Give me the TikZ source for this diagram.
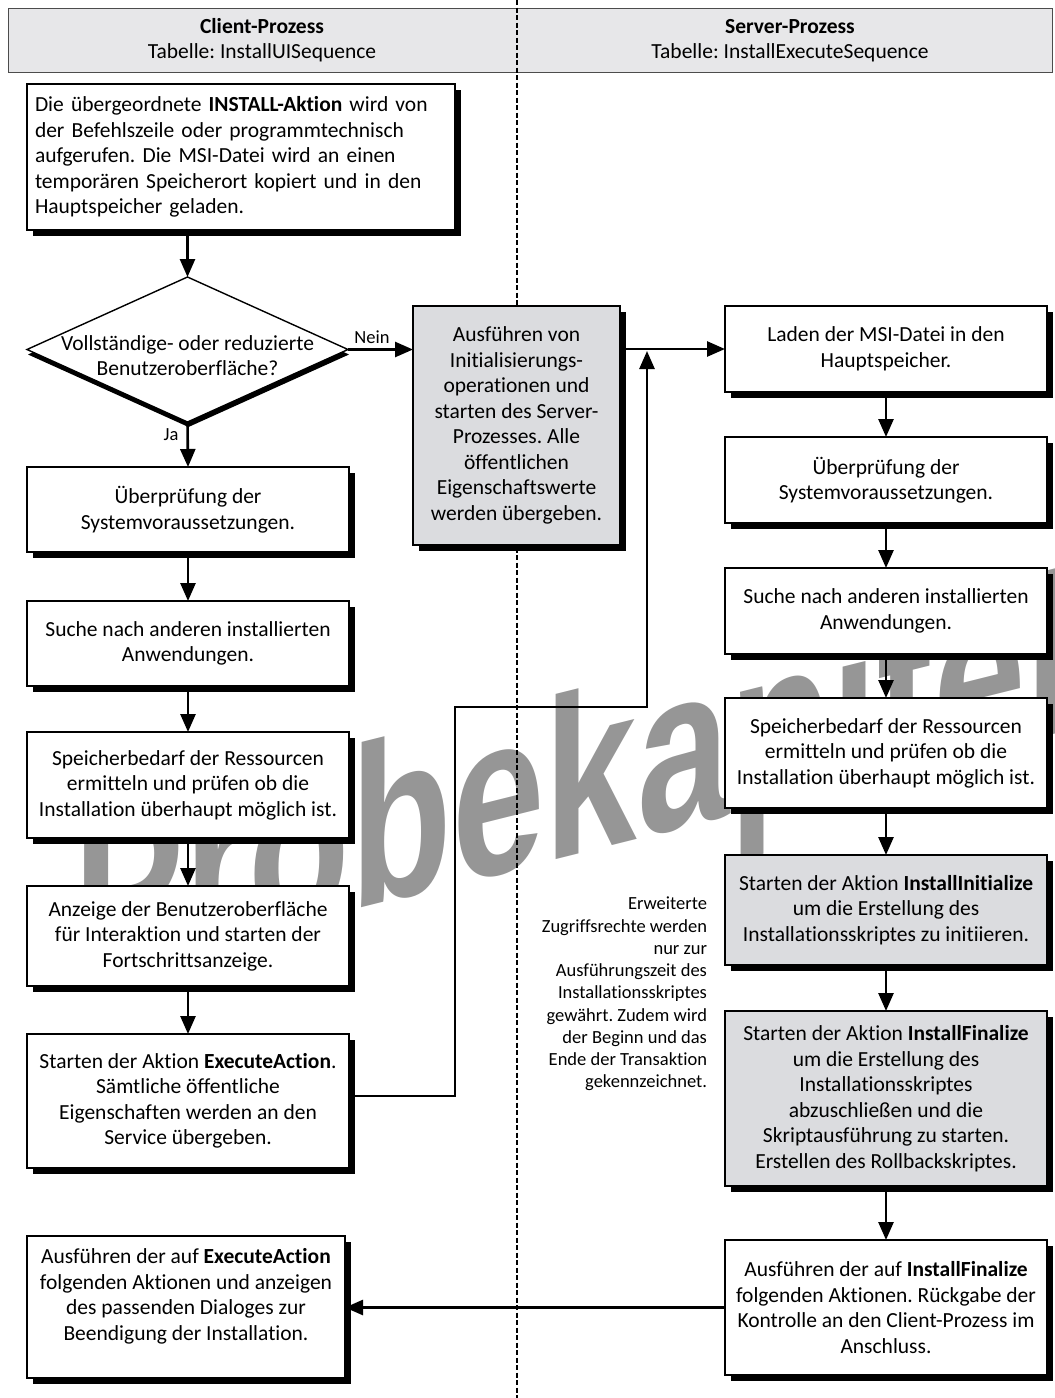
\documentclass[tikz,border=0pt]{standalone}
\usepackage{fontspec}
\setmainfont{Carlito}[Ligatures=NoCommon]
\newfontfamily\wmfont{Liberation Sans}
\usetikzlibrary{arrows.meta,shadows,shapes.geometric}
\frenchspacing

\definecolor{boxgray}{RGB}{219,220,223}
\definecolor{headgray}{RGB}{231,231,233}
\definecolor{wmgray}{RGB}{150,150,150}

\tikzset{
  every node/.style={outer sep=0pt},
  bodytext/.style={font=\fontsize{21.5}{25.5}\selectfont},
  flowbox/.style={draw=black, line width=1.4pt, fill=white, inner sep=0pt,
    align=center, bodytext,
    drop shadow={shadow xshift=5.5pt, shadow yshift=-5.5pt, fill=black, opacity=1}},
  graybox/.style={flowbox, fill=boxgray},
  decision/.style={diamond, draw=black, line width=1.4pt, fill=white, inner sep=0pt,
    drop shadow={shadow xshift=1pt, shadow yshift=-5pt, fill=black, opacity=1}},
  conn/.style={line width=2.6pt, -{Triangle[length=18pt,width=15pt]}},
  lane/.style={line width=2pt, dash pattern=on 5pt off 2.5pt},
  note/.style={font=\fontsize{18.5}{22.25}\selectfont, align=right, inner sep=0pt},
  flag/.style={font=\fontsize{18.5}{20}\selectfont, inner sep=0pt},
  headtext/.style={align=center, inner sep=0pt, font=\fontsize{21.5}{25}\selectfont},
}

\begin{document}
\begin{tikzpicture}[x=1pt,y=1pt]
\useasboundingbox (0,0) rectangle (1055,-1398);

% background watermark
\begin{scope}[shift={(73,-980)}]
  \node[anchor=base west, inner sep=0pt, text=wmgray,
        font=\wmfont\bfseries\fontsize{228}{228}\selectfont,
        cm={0.73,0.1825,0,1,(0,0)}, transform shape] (wm) at (0,0) {Probekapitel};
\end{scope}

% lane headers
\node[draw=black!70, line width=0.8pt, fill=headgray, minimum width=1044pt,
      minimum height=64pt, inner sep=0pt] (head) at (530,-40) {};
\node[headtext] (hclient) at (262,-40.5) {\textbf{Client-Prozess}\\Tabelle: InstallUISequence};
\node[headtext] (hserver) at (790,-40.5) {\textbf{Server-Prozess}\\Tabelle: InstallExecuteSequence};

% lane divider
\coordinate (laneTop) at (517,0);
\coordinate (laneBot) at (517,-1398);
\draw[lane] (laneTop) -- (laneBot);

% client process
\node[flowbox, align=left, text width=412pt, minimum width=428pt, minimum height=146pt]
  (A) at (241,-157) {Die übergeordnete \textbf{INSTALL-Aktion} wird von\\der Befehlszeile oder programmtechnisch\\aufgerufen. Die MSI-Datei wird an einen\\temporären Speicherort kopiert und in den\\Hauptspeicher geladen.};

\node[decision, minimum width=321pt, minimum height=145pt] (dia) at (187.5,-349.5) {};
\node[bodytext, align=center, inner sep=0pt] (diatext) at (187.5,-355.5)
  {Vollständige- oder reduzierte\\Benutzeroberfläche?};

\node[flowbox, minimum width=322pt, minimum height=85pt] (B) at (188,-509.5)
  {Überprüfung der\\Systemvoraussetzungen.};
\node[flowbox, minimum width=322pt, minimum height=85pt] (C) at (188,-643.5)
  {Suche nach anderen installierten\\Anwendungen.};
\node[flowbox, minimum width=322pt, minimum height=106pt] (D) at (188,-785)
  {Speicherbedarf der Ressourcen\\ermitteln und prüfen ob die\\Installation überhaupt möglich ist.};
\node[flowbox, minimum width=322pt, minimum height=100pt] (E) at (188,-936)
  {Anzeige der Benutzeroberfläche\\für Interaktion und starten der\\Fortschrittsanzeige.};
\node[flowbox, minimum width=322pt, minimum height=134pt] (F) at (188,-1101)
  {Starten der Aktion \textbf{ExecuteAction}.\\Sämtliche öffentliche\\Eigenschaften werden an den\\Service übergeben.};
\node[flowbox, minimum width=318pt, minimum height=142pt] (G) at (186,-1307)
  {Ausführen der auf \textbf{ExecuteAction}\\folgenden Aktionen und anzeigen\\des passenden Dialoges zur\\Beendigung der Installation.\\[0pt]\rule{0pt}{0pt}};

% hand-over to the service
\node[graybox, minimum width=207pt, minimum height=239pt] (H) at (516.5,-425.5)
  {Ausführen von\\Initialisierungs-\\operationen und\\starten des Server-\\Prozesses. Alle\\öffentlichen\\Eigenschaftswerte\\werden übergeben.};

% server process
\node[flowbox, minimum width=322pt, minimum height=86pt] (R1) at (886,-349)
  {Laden der MSI-Datei in den\\Hauptspeicher.};
\node[flowbox, minimum width=322pt, minimum height=86pt] (R2) at (886,-480)
  {Überprüfung der\\Systemvoraussetzungen.};
\node[flowbox, minimum width=322pt, minimum height=86pt] (R3) at (886,-611)
  {Suche nach anderen installierten\\Anwendungen.};
\node[flowbox, minimum width=322pt, minimum height=110pt] (R4) at (886,-753)
  {Speicherbedarf der Ressourcen\\ermitteln und prüfen ob die\\Installation überhaupt möglich ist.};
\node[graybox, minimum width=322pt, minimum height=110pt] (R5) at (886,-910)
  {Starten der Aktion \textbf{InstallInitialize}\\um die Erstellung des\\Installationsskriptes zu initiieren.};
\node[graybox, minimum width=322pt, minimum height=175pt] (R6) at (886,-1098.5)
  {Starten der Aktion \textbf{InstallFinalize}\\um die Erstellung des\\Installationsskriptes\\abzuschließen und die\\Skriptausführung zu starten.\\Erstellen des Rollbackskriptes.};
\node[flowbox, minimum width=322pt, minimum height=135pt] (R7) at (886,-1307.5)
  {Ausführen der auf \textbf{InstallFinalize}\\folgenden Aktionen. Rückgabe der\\Kontrolle an den Client-Prozess im\\Anschluss.};

% side note
\node[note, anchor=east] (note) at (707,-994)
  {Erweiterte\\Zugriffsrechte werden\\nur zur\\Ausführungszeit des\\Installationsskriptes\\gewährt. Zudem wird\\der Beginn und das\\Ende der Transaktion\\gekennzeichnet.};

% client flow
\draw[conn] (dia.north |- A.south) -- (dia.north);
\draw[conn] (dia.south) -- (B.north);
\draw[conn] (B.south) -- (C.north);
\draw[conn] (C.south) -- (D.north);
\draw[conn] (D.south) -- (E.north);
\draw[conn] (E.south) -- (F.north);
\draw[conn] (dia.east) -- (H.west |- dia.east);
\node[flag] (nein) at (372,-337) {Nein};
\node[flag] (ja) at (171,-435) {Ja};

% server flow
\draw[conn] (H.east |- R1.west) -- (R1.west);
\draw[conn] (R1.south) -- (R2.north);
\draw[conn] (R2.south) -- (R3.north);
\draw[conn] (R3.south) -- (R4.north);
\draw[conn] (R4.south) -- (R5.north);
\draw[conn] (R5.south) -- (R6.north);
\draw[conn] (R6.south) -- (R7.north);
\draw[conn] (R7.west) -- (G.east |- R7.west);

% ExecuteAction hands control back to the server
\coordinate (loopA) at (455,-1096);
\coordinate (loopB) at (455,-707);
\coordinate (loopC) at (647,-707);
\coordinate (joinpt) at (647,-351);
\draw[conn] (F.east |- loopA) -- (loopA) -- (loopB) -- (loopC) -- (joinpt);
\end{tikzpicture}
\end{document}
